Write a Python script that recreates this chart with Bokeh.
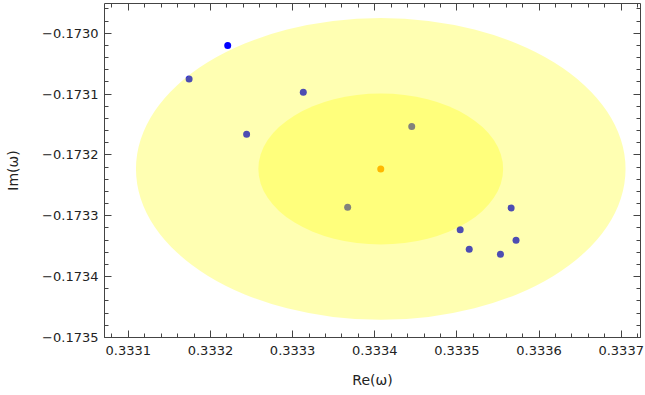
import numpy as np
from bokeh.plotting import figure
from bokeh.models import Range1d, FixedTicker, CustomJSTickFormatter, LinearAxis
from bokeh.embed import file_html
from bokeh.resources import INLINE

# ---- data ----
re_vals = [0.333221, 0.333174, 0.333313, 0.333244, 0.333445, 0.333367,
           0.333566, 0.333504, 0.333572, 0.333515, 0.333553]
im_vals = [-0.173020, -0.173075, -0.173097, -0.173166, -0.173153, -0.173286,
           -0.173287, -0.173323, -0.173340, -0.173355, -0.173363]
center_re = [0.3334073]
center_im = [-0.173223]
ellipse_semi_re = [0.000298, 0.000149]
ellipse_semi_im = [0.000248, 0.000124]
x_ticks = [0.3331, 0.3332, 0.3333, 0.3334, 0.3335, 0.3336, 0.3337]
y_ticks = [-0.1735, -0.1734, -0.1733, -0.1732, -0.1731, -0.1730]

def minors(t):
    step = (t[1] - t[0]) / 5
    out = []
    for k in range(-5, 5 * len(t) + 5):
        out.append(t[0] + k * step)
    return out

FONT = "DejaVu Sans"
TXT = "#222222"
AX = "#444444"

p = figure(width=645, height=395, output_backend="svg", toolbar_location=None,
           x_range=Range1d(0.333071, 0.3337235), y_range=Range1d(-0.1735, -0.172951),
           min_border_left=104, min_border_right=5, min_border_top=3, min_border_bottom=58)
p.grid.visible = False
p.outline_line_color = None
p.background_fill_color = "white"
p.border_fill_color = "white"

fmt = CustomJSTickFormatter(code="""
const s = Math.abs(tick).toFixed(4);
return (tick < 0 ? "\\u2212" : "") + s;
""")
blank = CustomJSTickFormatter(code='return "";')

xt = FixedTicker(ticks=x_ticks, minor_ticks=minors(x_ticks))
yt = FixedTicker(ticks=y_ticks, minor_ticks=minors(y_ticks))

def style(ax, labels=True):
    ax.axis_line_color = AX
    ax.major_tick_line_color = AX
    ax.minor_tick_line_color = AX
    ax.major_tick_in = 7
    ax.major_tick_out = 0
    ax.minor_tick_in = 4
    ax.minor_tick_out = 0
    if labels:
        ax.major_label_text_font = FONT
        ax.major_label_text_font_size = "13px"
        ax.major_label_text_color = TXT
        ax.axis_label_text_font = FONT
        ax.axis_label_text_font_size = "14px"
        ax.axis_label_text_font_style = "normal"
        ax.axis_label_text_color = TXT
    else:
        ax.formatter = blank
        ax.major_label_text_font_size = "0px"
        ax.major_label_standoff = 0

xa = p.xaxis[0]
xa.ticker = xt
xa.formatter = fmt
xa.axis_label = "Re(ω)"
style(xa)
xa.major_label_standoff = 8
xa.axis_label_standoff = 14

ya = p.yaxis[0]
ya.ticker = yt
ya.formatter = fmt
ya.axis_label = "Im(ω)"
style(ya)
ya.major_label_standoff = 6
ya.axis_label_standoff = 18

top = LinearAxis(ticker=xt)
style(top, labels=False)
p.add_layout(top, "above")
right = LinearAxis(ticker=yt)
style(right, labels=False)
p.add_layout(right, "right")

# points (under translucent ellipses, as in the original)
p.scatter(re_vals, im_vals, size=7, color="#0000ff", line_color=None)

cx = center_re * len(ellipse_semi_re)
cy = center_im * len(ellipse_semi_im)
p.ellipse(x=cx, y=cy,
          width=[2 * a for a in ellipse_semi_re],
          height=[2 * b for b in ellipse_semi_im],
          fill_color="#ffff00", fill_alpha=0.3, line_color=None)

p.scatter(center_re, center_im, size=7, color="#ffb800", line_color=None)

open("out.html", "w").write(file_html(p, INLINE))
